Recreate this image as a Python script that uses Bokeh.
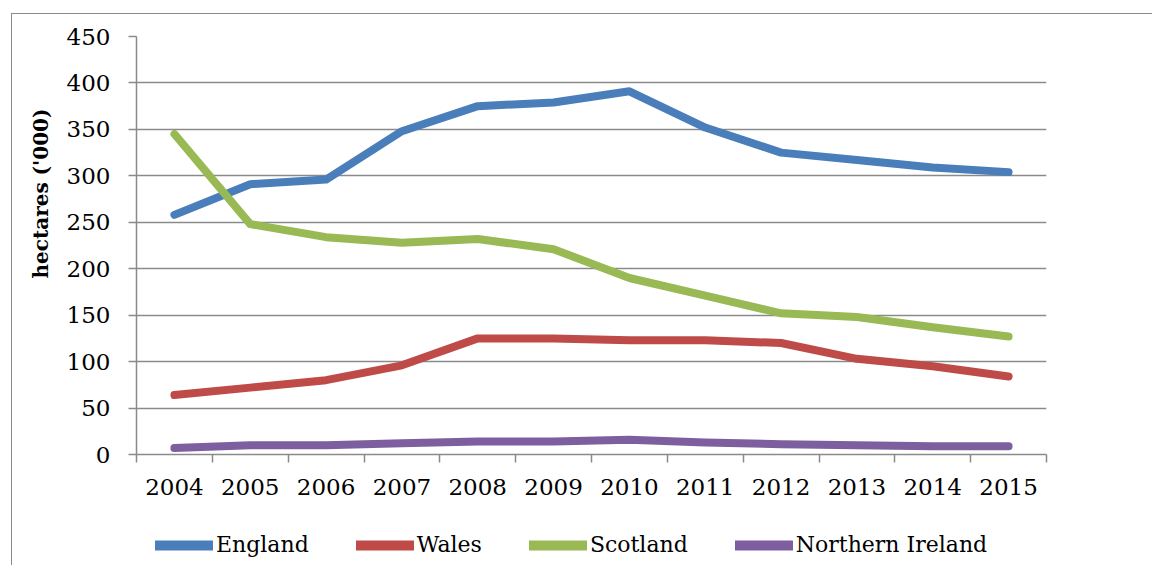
from bokeh.plotting import figure
from bokeh.layouts import column
from bokeh.models import (FixedTicker, Legend, LegendItem, Title, Range1d,
                          InlineStyleSheet)
from bokeh.embed import file_html
from bokeh.resources import INLINE

# Planted area by nation, hectares ('000)
years = ["2004", "2005", "2006", "2007", "2008", "2009",
         "2010", "2011", "2012", "2013", "2014", "2015"]
england = [258, 291, 296, 348, 375, 379, 391, 352, 325, 317, 309, 304]
wales = [64, 72, 80, 96, 125, 125, 123, 123, 120, 103, 95, 84]
scotland = [345, 248, 234, 228, 232, 221, 190, 171, 152, 148, 137, 127]
northern_ireland = [7, 10, 10, 12, 14, 14, 16, 13, 11, 10, 9, 9]

series = [
    ("England", england, "#4A7EBB"),
    ("Wales", wales, "#BE4B48"),
    ("Scotland", scotland, "#98B954"),
    ("Northern Ireland", northern_ireland, "#7D5FA0"),
]

y_ticks = list(range(0, 451, 50))

FONT = "DejaVu Serif"
GRID = "#8a8a8a"
LINE_W = 8

# category centres sit halfway between the boundary ticks
centres = [i + 0.5 for i in range(len(years))]
bounds = list(range(len(years) + 1))

# thin chart border along the left and top of the whole chart area
border_css = InlineStyleSheet(css="""
:host { position: relative; }
:host::after {
  content: "";
  position: absolute;
  left: 11px; top: 13px;
  width: 1141px; height: 552px;
  box-sizing: border-box;
  border-left: 1.5px solid #8a8a8a;
  border-top: 1.5px solid #8a8a8a;
  pointer-events: none;
}
""")

p = figure(width=1152, height=520, output_backend="svg", toolbar_location=None,
           x_range=Range1d(0, len(years)), y_range=Range1d(0, 450),
           min_border_left=136, min_border_right=106,
           min_border_top=36, min_border_bottom=66)
p.outline_line_color = None
p.background_fill_color = None
p.border_fill_color = None

# x axis: labels at centres, tick marks at the category boundaries
xa = p.xaxis[0]
xa.ticker = FixedTicker(ticks=centres, minor_ticks=bounds)
xa.major_label_overrides = {c: y for c, y in zip(centres, years)}
xa.major_tick_out = 0
xa.major_tick_in = 0
xa.minor_tick_out = 8
xa.minor_tick_in = 0
xa.minor_tick_line_color = GRID
xa.minor_tick_line_width = 1.5
xa.axis_line_color = GRID
xa.axis_line_width = 1.5
xa.major_label_text_font = FONT
xa.major_label_text_font_size = "23px"
xa.major_label_text_color = "black"
xa.major_label_standoff = 16

ya = p.yaxis[0]
ya.ticker = FixedTicker(ticks=y_ticks)
ya.major_tick_out = 8
ya.major_tick_in = 0
ya.minor_tick_out = 0
ya.minor_tick_in = 0
ya.major_tick_line_color = GRID
ya.major_tick_line_width = 1.5
ya.axis_line_color = GRID
ya.axis_line_width = 1.5
ya.major_label_text_font = FONT
ya.major_label_text_font_size = "23px"
ya.major_label_text_color = "black"
ya.major_label_standoff = 18

p.xgrid.grid_line_color = None
p.ygrid.ticker = FixedTicker(ticks=y_ticks)
p.ygrid.grid_line_color = GRID
p.ygrid.grid_line_width = 1.5

for name, vals, color in series:
    p.line(centres, vals, line_color=color, line_width=LINE_W,
           line_cap="round", line_join="round")

p.add_layout(Title(text="hectares ('000)", align="left", offset=176,
                   standoff=22, text_font=FONT, text_font_style="bold",
                   text_font_size="20px", text_color="black"), "left")

# legend strip underneath the chart
leg = figure(width=1152, height=45, output_backend="svg", toolbar_location=None,
             x_range=Range1d(0, 1), y_range=Range1d(0, 1),
             x_axis_location=None, y_axis_location=None, min_border=0)
leg.outline_line_color = None
leg.grid.visible = False
leg.background_fill_color = None
leg.border_fill_color = None

nan = float("nan")
items = []
for name, vals, color in series:
    # a single blank point: the renderer only supplies the legend swatch style
    r = leg.line([nan], [nan], line_color=color, line_width=10,
                 line_cap="round", line_join="round")
    items.append(LegendItem(label=name, renderers=[r]))

legend = Legend(items=items, orientation="horizontal", location=(19, 8),
                glyph_width=58, glyph_height=24, label_height=24,
                label_standoff=3, spacing=47, padding=0, margin=0,
                border_line_color=None, background_fill_alpha=0,
                label_text_font=FONT, label_text_font_size="22px",
                label_text_color="black")
leg.add_layout(legend, "center")

layout = column(p, leg, spacing=0, stylesheets=[border_css])

open("out.html", "w").write(file_html(layout, INLINE))
